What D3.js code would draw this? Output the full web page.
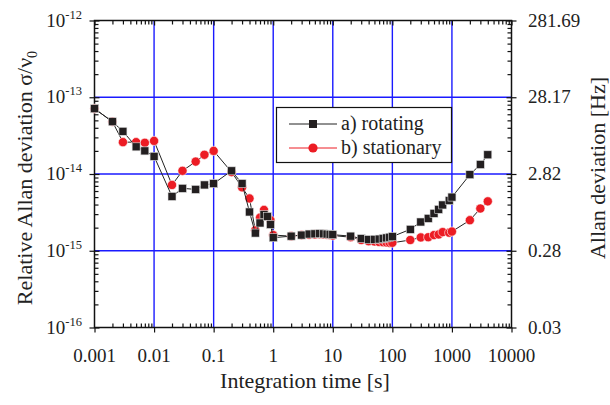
<!DOCTYPE html>
<html>
	<head>
		<title>Allan deviation</title>
		<style type="text/css">
			@font-face {
				font-family: "ChartSerif";
				src: local("Liberation Serif"), local("LiberationSerif"), local("LiberationSerif-Regular"), local("Liberation Serif Regular"), local("Times New Roman");
				font-display: swap;
			}
			body { margin: 0; background: #fff; font-family: "Liberation Serif", "Times New Roman", Times, serif; }
			svg text { font-family: "Liberation Serif", "ChartSerif", "Times New Roman", Times, "Nimbus Roman", FreeSerif, serif; }
		</style>
		<script src="https://cdn.jsdelivr.net/npm/d3@7/dist/d3.min.js"></script>
	</head>
	<body>
		<div id="chart"></div>
		<script type="text/javascript">
		// integration times [s]
		var tauRot = [0.001, 0.002, 0.003, 0.005, 0.007, 0.01, 0.02, 0.03, 0.05, 0.07, 0.1, 0.2, 0.3, 0.4, 0.5, 0.6, 0.7, 0.8, 0.9, 1,
			2, 3, 4, 5, 6, 7, 8, 9, 10, 20, 30, 40, 50, 60, 70, 80, 90, 100, 200, 300, 400, 500, 600, 700, 900, 1000, 2000, 3000, 4000];
		var sigmaRot = [7.1e-14, 4.8e-14, 3.6e-14, 2.26e-14, 2.0e-14, 1.7e-14, 5.1e-15, 6.5e-15, 6.3e-15, 7.2e-15, 7.5e-15, 1.1e-14, 7.5e-15, 3.2e-15, 1.7e-15, 2.3e-15, 2.95e-15, 2.8e-15, 2.2e-15, 1.48e-15,
			1.55e-15, 1.6e-15, 1.65e-15, 1.66e-15, 1.67e-15, 1.66e-15, 1.65e-15, 1.64e-15, 1.62e-15, 1.55e-15, 1.44e-15, 1.4e-15, 1.41e-15, 1.42e-15, 1.45e-15, 1.47e-15, 1.5e-15, 1.53e-15,
			1.9e-15, 2.37e-15, 2.64e-15, 3.07e-15, 3.46e-15, 3.95e-15, 4.5e-15, 5.0e-15, 9.8e-15, 1.33e-14, 1.78e-14];
		var tauSta = [0.001, 0.002, 0.003, 0.005, 0.007, 0.01, 0.02, 0.03, 0.05, 0.07, 0.1, 0.2, 0.3, 0.4, 0.5, 0.6, 0.7, 0.9, 1,
			2, 3, 4, 5, 6, 7, 8, 9, 10, 20, 30, 40, 50, 60, 70, 80, 90, 100, 200, 300, 400, 500, 600, 700, 900, 1000, 2000, 3000, 4000];
		var sigmaSta = [7.1e-14, 4.8e-14, 2.6e-14, 2.6e-14, 2.55e-14, 2.7e-14, 7.2e-15, 1.1e-14, 1.45e-14, 1.78e-14, 2.0e-14, 1.06e-14, 6.7e-15, 4.8e-15, 1.85e-15, 2.7e-15, 3.4e-15, 2.5e-15, 1.6e-15,
			1.55e-15, 1.6e-15, 1.62e-15, 1.63e-15, 1.64e-15, 1.63e-15, 1.62e-15, 1.6e-15, 1.58e-15, 1.5e-15, 1.38e-15, 1.33e-15, 1.32e-15, 1.3e-15, 1.29e-15, 1.28e-15, 1.27e-15, 1.27e-15,
			1.38e-15, 1.49e-15, 1.5e-15, 1.6e-15, 1.63e-15, 1.75e-15, 1.72e-15, 1.78e-15, 2.5e-15, 3.55e-15, 4.4e-15];
		var xTicks = [0.001, 0.01, 0.1, 1, 10, 100, 1000, 10000];
		var xTickLabels = ["0.001", "0.01", "0.1", "1", "10", "100", "1000", "10000"];
		var yTicks = [1e-16, 1e-15, 1e-14, 1e-13, 1e-12];
		var yExponents = ["-16", "-15", "-14", "-13", "-12"];
		var hzTickLabels = ["0.03", "0.28", "2.82", "28.17", "281.69"];
		var nu0 = 2.8169e14; // Hz, relative -> absolute
		var legendNames = ["a) rotating", "b) stationary"];

		var width = 610, height = 405;
		var plotL = 94.5, plotR = 511.5, plotT = 20.5, plotB = 327.5;
		var serif = "'Liberation Serif', 'ChartSerif', 'Times New Roman', Times, 'Nimbus Roman', FreeSerif, serif";
		var svg = d3.select("#chart").append("svg")
			.attr("width", width)
			.attr("height", height);

		var x = d3.scaleLog().domain([0.001, 10000]).range([plotL, plotR]);
		var y = d3.scaleLog().domain([1e-16, 1e-12]).range([plotB, plotT]);
		var yHz = d3.scaleLog().domain([1e-16 * nu0, 1e-12 * nu0]).range([plotB, plotT]);

		// minor tick positions, 2..9 within each decade
		var minorX = [], minorY = [];
		x.ticks(80).forEach(function (t) { if (xTicks.indexOf(t) < 0) minorX.push(t); });
		y.ticks(60).forEach(function (t) { if (yTicks.indexOf(t) < 0) minorY.push(t); });

		// blue grid
		svg.append("g").selectAll("line")
			.data(xTicks.slice(1, -1))
			.enter().append("line")
			.attr("x1", function (d) { return x(d); })
			.attr("x2", function (d) { return x(d); })
			.attr("y1", plotT).attr("y2", plotB)
			.style("stroke", "#1a1aff").style("stroke-width", 1.4);
		svg.append("g").selectAll("line")
			.data(yTicks.slice(1, -1))
			.enter().append("line")
			.attr("y1", function (d) { return y(d); })
			.attr("y2", function (d) { return y(d); })
			.attr("x1", plotL).attr("x2", plotR)
			.style("stroke", "#1a1aff").style("stroke-width", 1.4);

		function styleAxis(g) {
			g.select(".domain").remove();
			g.selectAll("line").style("stroke", "#111").style("stroke-width", 1.2);
			g.selectAll("text").remove();
		}

		// bottom axis: majors cross, minors inward
		svg.append("g").attr("transform", "translate(0," + plotB + ")")
			.call(d3.axisBottom(x).tickValues(xTicks).tickSize(5)).call(styleAxis);
		svg.append("g").attr("transform", "translate(0," + plotB + ")")
			.call(d3.axisTop(x).tickValues(minorX).tickSize(4)).call(styleAxis);
		// top axis
		svg.append("g").attr("transform", "translate(0," + plotT + ")")
			.call(d3.axisBottom(x).tickValues(minorX).tickSize(4)).call(styleAxis);
		svg.append("g").attr("transform", "translate(0," + plotT + ")")
			.call(d3.axisBottom(x).tickValues(xTicks).tickSize(5)).call(styleAxis);
		// left axis
		svg.append("g").attr("transform", "translate(" + plotL + ",0)")
			.call(d3.axisLeft(y).tickValues(yTicks).tickSize(5)).call(styleAxis);
		svg.append("g").attr("transform", "translate(" + plotL + ",0)")
			.call(d3.axisRight(y).tickValues(yTicks).tickSize(5)).call(styleAxis);
		svg.append("g").attr("transform", "translate(" + plotL + ",0)")
			.call(d3.axisRight(y).tickValues(minorY).tickSize(4)).call(styleAxis);
		// right axis (Hz)
		var hzMajor = yTicks.map(function (d) { return d * nu0; });
		var hzMinor = minorY.map(function (d) { return d * nu0; });
		svg.append("g").attr("transform", "translate(" + plotR + ",0)")
			.call(d3.axisRight(yHz).tickValues(hzMajor).tickSize(5)).call(styleAxis);
		svg.append("g").attr("transform", "translate(" + plotR + ",0)")
			.call(d3.axisLeft(yHz).tickValues(hzMajor).tickSize(5)).call(styleAxis);
		svg.append("g").attr("transform", "translate(" + plotR + ",0)")
			.call(d3.axisLeft(yHz).tickValues(hzMinor).tickSize(4)).call(styleAxis);

		// frame
		svg.append("rect")
			.attr("x", plotL).attr("y", plotT)
			.attr("width", plotR - plotL).attr("height", plotB - plotT)
			.style("fill", "none").style("stroke", "#111").style("stroke-width", 1.5);

		// tick labels
		svg.append("g").selectAll("text")
			.data(xTicks)
			.enter().append("text")
			.attr("x", function (d) { return x(d); })
			.attr("y", 362)
			.attr("text-anchor", "middle")
			.style("font-family", serif).style("fill", "#222")
			.style("font-size", "19px")
			.text(function (d, i) { return xTickLabels[i]; });
		var yl = svg.append("g").selectAll("text")
			.data(yTicks)
			.enter().append("text")
			.attr("x", 82)
			.attr("y", function (d) { return y(d) + 6; })
			.attr("text-anchor", "end")
			.style("font-family", serif).style("fill", "#222")
			.style("font-size", "19px");
		yl.append("tspan").text("10");
		yl.append("tspan").attr("dy", -8).style("font-size", "12.5px")
			.text(function (d, i) { return yExponents[i]; });
		svg.append("g").selectAll("text")
			.data(hzMajor)
			.enter().append("text")
			.attr("x", 528)
			.attr("y", function (d) { return yHz(d) + 6; })
			.style("font-family", serif).style("fill", "#222")
			.style("font-size", "19px")
			.text(function (d, i) { return hzTickLabels[i]; });

		// axis titles
		svg.append("text")
			.attr("x", 305).attr("y", 388)
			.attr("text-anchor", "middle")
			.style("font-family", serif).style("fill", "#222")
			.style("font-size", "22px")
			.text("Integration time [s]");
		var lt = svg.append("text")
			.attr("transform", "translate(32,178) rotate(-90)")
			.attr("text-anchor", "middle")
			.style("font-family", serif).style("fill", "#222")
			.style("font-size", "22px");
		lt.append("tspan").text("Relative Allan deviation  σ/ν");
		lt.append("tspan").attr("dy", 5).style("font-size", "14px").text("0");
		svg.append("text")
			.attr("transform", "translate(605,168) rotate(-90)")
			.attr("text-anchor", "middle")
			.style("font-family", serif).style("fill", "#222")
			.style("font-size", "22px")
			.text("Allan deviation [Hz]");

		// series
		var rot = tauRot.map(function (t, i) { return [t, sigmaRot[i]]; });
		var sta = tauSta.map(function (t, i) { return [t, sigmaSta[i]]; });
		var line = d3.line()
			.x(function (d) { return x(d[0]); })
			.y(function (d) { return y(d[1]); });

		svg.append("path").datum(sta).attr("d", line)
			.style("fill", "none").style("stroke", "#222").style("stroke-width", 1);
		svg.append("g").selectAll("circle")
			.data(sta)
			.enter().append("circle")
			.attr("cx", function (d) { return x(d[0]); })
			.attr("cy", function (d) { return y(d[1]); })
			.attr("r", 4.6)
			.style("fill", "#ec1c24").style("stroke", "#fff").style("stroke-width", 0.6);

		svg.append("path").datum(rot).attr("d", line)
			.style("fill", "none").style("stroke", "#222").style("stroke-width", 1);
		svg.append("g").selectAll("rect")
			.data(rot)
			.enter().append("rect")
			.attr("x", function (d) { return x(d[0]) - 4; })
			.attr("y", function (d) { return y(d[1]) - 4; })
			.attr("width", 8).attr("height", 8)
			.style("fill", "#231f20").style("stroke", "#ddd").style("stroke-width", 0.6);

		// legend
		var lg = svg.append("g");
		lg.append("rect")
			.attr("x", 276.5).attr("y", 107.5)
			.attr("width", 175).attr("height", 55)
			.style("fill", "#fff").style("stroke", "#111").style("stroke-width", 1.2);
		var rows = lg.selectAll("g.row")
			.data(legendNames)
			.enter().append("g")
			.attr("class", "row")
			.attr("transform", function (d, i) { return "translate(0," + (124 + i * 24) + ")"; });
		rows.append("line")
			.attr("x1", 289).attr("x2", 337)
			.style("stroke", function (d, i) { return i ? "#ec1c24" : "#222"; })
			.style("stroke-width", 1);
		rows.filter(function (d, i) { return i === 0; }).append("rect")
			.attr("x", 309).attr("y", -4).attr("width", 8).attr("height", 8)
			.style("fill", "#231f20");
		rows.filter(function (d, i) { return i === 1; }).append("circle")
			.attr("cx", 313).attr("r", 4.6)
			.style("fill", "#ec1c24");
		rows.append("text")
			.attr("x", 341).attr("y", 6)
			.style("font-family", serif).style("fill", "#222")
			.style("font-size", "20px")
			.text(function (d) { return d; });
		</script>
	</body>
</html>
